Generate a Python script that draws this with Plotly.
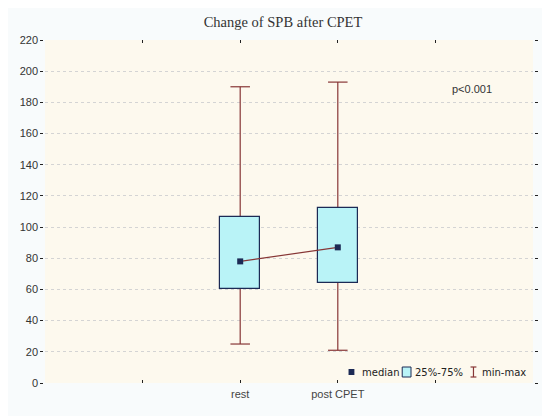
import plotly.graph_objects as go

# data
categories = ["rest", "post CPET"]
val_min = [25, 21]
val_q1 = [60, 64]
val_median = [78, 87]
val_q3 = [106.5, 112]
val_max = [190, 193]

y_ticks = list(range(0, 221, 20))
p_text = "p<0.001"

# category positions on a 0..5 numeric axis (ticks at every unit)
x_pos = [i + 2 for i in range(len(categories))]
cap = 0.1

whisk_color = "#873636"
box_fill = "#b9f3f7"
box_line = "#1c2a55"

# whiskers: vertical min-max line plus caps
wx, wy = [], []
for x, lo, hi in zip(x_pos, val_min, val_max):
    wx += [x, x, None, x - cap, x + cap, None, x - cap, x + cap, None]
    wy += [lo, hi, None, hi, hi, None, lo, lo, None]

fig = go.Figure()
fig.add_trace(go.Scatter(x=wx, y=wy, mode="lines",
                         line=dict(color=whisk_color, width=1.2),
                         hoverinfo="skip", showlegend=False, zorder=0))
fig.add_trace(go.Bar(x=x_pos, y=[b - a for a, b in zip(val_q1, val_q3)], base=val_q1,
                     width=0.41, marker=dict(color=box_fill, line=dict(color=box_line, width=1.2)),
                     showlegend=False, zorder=1))
fig.add_trace(go.Scatter(x=x_pos, y=val_median, mode="lines+markers",
                         line=dict(color=whisk_color, width=1.2),
                         marker=dict(symbol="square", size=6, color=box_line),
                         showlegend=False, zorder=2))

fig.add_annotation(x=4.37, y=188.5, xref="x", yref="y", text=p_text, showarrow=False,
                   font=dict(family="Liberation Sans, Arial", size=11, color="#333"))

# hand-made legend, page pixels -> paper coords (page has an 8px body margin)
def px(x):
    return (x - 38) / 500.0

def py(y):
    return (383 - y) / 343.0

leg_font = dict(family="DejaVu Sans, Verdana", size=10, color="#222")
fig.add_shape(type="rect", xref="paper", yref="paper", x0=px(349), x1=px(355), y0=py(375), y1=py(369),
              fillcolor=box_line, line=dict(width=0))
fig.add_annotation(x=px(361), y=py(372), xref="paper", yref="paper", text="median",
                   showarrow=False, xanchor="left", yanchor="middle", font=leg_font)
fig.add_shape(type="rect", xref="paper", yref="paper", x0=px(404), x1=px(413), y0=py(377), y1=py(367),
              fillcolor=box_fill, line=dict(color=box_line, width=1))
fig.add_annotation(x=px(415), y=py(372), xref="paper", yref="paper", text="25%-75%",
                   showarrow=False, xanchor="left", yanchor="middle", font=leg_font)
for path in [(px(477), px(477), py(367), py(377)),
             (px(474), px(480), py(367), py(367)),
             (px(474), px(480), py(377), py(377))]:
    fig.add_shape(type="line", xref="paper", yref="paper", x0=path[0], x1=path[1], y0=path[2], y1=path[3],
                  line=dict(color=whisk_color, width=1.2))
fig.add_annotation(x=px(484), y=py(372), xref="paper", yref="paper", text="min-max",
                   showarrow=False, xanchor="left", yanchor="middle", font=leg_font)

fig.update_layout(
    width=542, height=408,
    margin=dict(l=30, r=12, t=32, b=33),
    paper_bgcolor="#f8fbfc",
    plot_bgcolor="#fdf9ee",
    title=dict(text="Change of SPB after CPET", x=275 / 542, xref="container", xanchor="center",
               y=1 - 14 / 408, yref="container", yanchor="middle",
               font=dict(family="Liberation Serif, Times New Roman", size=14.5, color="#333")),
    xaxis=dict(range=[0, 5], tickvals=[1, 2, 3, 4], ticktext=["", categories[0], categories[1], ""],
               ticks="inside", ticklen=3, tickcolor="#222", mirror="ticks",
               showline=True, linecolor="#444", linewidth=1.5, showgrid=False, zeroline=False,
               tickfont=dict(family="Liberation Sans, Arial", size=11, color="#444")),
    yaxis=dict(range=[0, 220], tickvals=y_ticks, ticks="outside", ticklen=3, tickcolor="#222",
               mirror="ticks", showline=True, linecolor="#444", linewidth=1.5,
               showgrid=True, gridcolor="#d4d4d4", griddash="dot", gridwidth=1, zeroline=False,
               tickfont=dict(family="Liberation Sans, Arial", size=11, color="#333")),
    bargap=0,
)

fig.write_html("out.html")
